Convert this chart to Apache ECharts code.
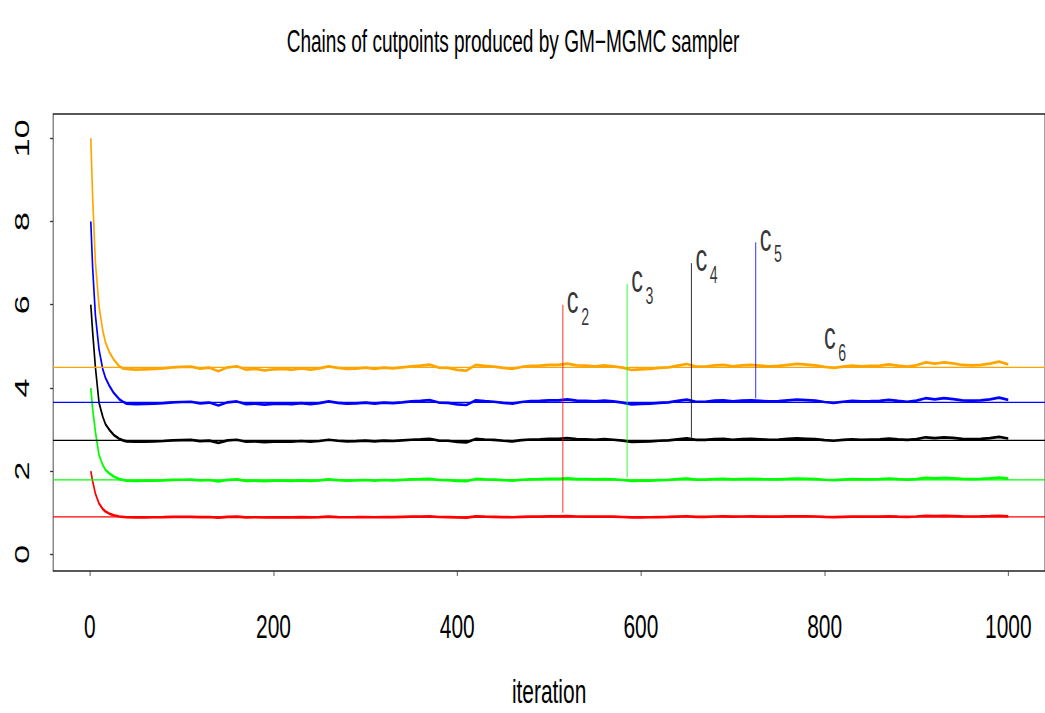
<!DOCTYPE html>
<html><head><meta charset="utf-8">
<script src="https://cdn.jsdelivr.net/npm/echarts@6/dist/echarts.min.js"></script>
<style>html,body{margin:0;padding:0;overflow:hidden;background:#fff;width:1045px;height:713px}</style>
</head><body>
<div id="c"></div>
<script>
// ---------- data ----------
const titleText = 'Chains of cutpoints produced by GM\u2212MGMC sampler';
const xName = 'iteration';
const xTicks = [0, 200, 400, 600, 800, 1000];
const yTicks = [0, 2, 4, 6, 8, 10];
const iterations = [1,3,6,10,14,17,21,26,32,36,
 40,50,60,70,80,90,100,110,120,130,
 140,150,160,170,180,190,200,210,220,230,
 240,250,260,270,280,290,300,310,320,330,
 340,350,360,370,380,390,400,410,420,430,
 440,450,460,470,480,490,500,510,520,530,
 540,550,560,570,580,590,600,610,620,630,
 640,650,660,670,680,690,700,710,720,730,
 740,750,760,770,780,790,800,810,820,830,
 840,850,860,870,880,890,900,910,920,930,
 940,950,960,970,980,990,1000];
const chainOrange = [10.0,8.6,7.02,5.96,5.38,5.09,4.87,4.68,4.52,4.47,
 4.456,4.440,4.448,4.456,4.472,4.496,4.504,4.512,4.464,4.488,
 4.400,4.496,4.520,4.440,4.456,4.424,4.448,4.456,4.440,4.472,
 4.440,4.472,4.520,4.480,4.456,4.464,4.488,4.456,4.488,4.472,
 4.496,4.520,4.536,4.560,4.488,4.480,4.432,4.416,4.552,4.528,
 4.512,4.480,4.456,4.504,4.528,4.536,4.552,4.552,4.584,4.544,
 4.536,4.520,4.544,4.520,4.488,4.432,4.448,4.456,4.480,4.496,
 4.536,4.576,4.512,4.512,4.544,4.552,4.520,4.544,4.552,4.536,
 4.520,4.528,4.552,4.576,4.560,4.544,4.504,4.480,4.512,4.536,
 4.520,4.528,4.536,4.568,4.536,4.512,4.544,4.616,4.584,4.616,
 4.592,4.552,4.544,4.552,4.584,4.632,4.568];
const chainBlue = [8.0,6.9,5.75,4.92,4.45,4.24,4.06,3.88,3.73,3.67,
 3.623,3.610,3.616,3.623,3.636,3.655,3.662,3.668,3.629,3.649,
 3.577,3.655,3.675,3.610,3.623,3.597,3.616,3.623,3.610,3.636,
 3.610,3.636,3.675,3.642,3.623,3.629,3.649,3.623,3.649,3.636,
 3.655,3.675,3.688,3.707,3.649,3.642,3.603,3.590,3.701,3.681,
 3.668,3.642,3.623,3.662,3.681,3.688,3.701,3.701,3.727,3.694,
 3.688,3.675,3.694,3.675,3.649,3.603,3.616,3.623,3.642,3.655,
 3.688,3.720,3.668,3.668,3.694,3.701,3.675,3.694,3.701,3.688,
 3.675,3.681,3.701,3.720,3.707,3.694,3.662,3.642,3.668,3.688,
 3.675,3.681,3.688,3.714,3.688,3.668,3.694,3.753,3.727,3.753,
 3.733,3.701,3.694,3.701,3.727,3.766,3.714];
const chainBlack = [6.0,5.35,4.5,3.64,3.31,3.13,3.0,2.87,2.78,2.74,
 2.716,2.706,2.711,2.716,2.725,2.740,2.745,2.750,2.720,2.735,
 2.681,2.740,2.755,2.706,2.716,2.696,2.711,2.716,2.706,2.725,
 2.706,2.725,2.755,2.730,2.716,2.720,2.735,2.716,2.735,2.725,
 2.740,2.755,2.765,2.779,2.735,2.730,2.701,2.691,2.774,2.760,
 2.750,2.730,2.716,2.745,2.760,2.765,2.774,2.774,2.794,2.769,
 2.765,2.755,2.769,2.755,2.735,2.701,2.711,2.716,2.730,2.740,
 2.765,2.789,2.750,2.750,2.769,2.774,2.755,2.769,2.774,2.765,
 2.755,2.760,2.774,2.789,2.779,2.769,2.745,2.730,2.750,2.765,
 2.755,2.760,2.765,2.784,2.765,2.750,2.769,2.814,2.794,2.814,
 2.799,2.774,2.769,2.774,2.794,2.823,2.784];
const chainGreen = [4.0,3.5,2.95,2.38,2.15,2.03,1.95,1.87,1.81,1.79,
 1.774,1.768,1.771,1.774,1.780,1.790,1.793,1.796,1.777,1.787,
 1.752,1.790,1.800,1.768,1.774,1.761,1.771,1.774,1.768,1.780,
 1.768,1.780,1.800,1.784,1.774,1.777,1.787,1.774,1.787,1.780,
 1.790,1.800,1.806,1.816,1.787,1.784,1.764,1.758,1.812,1.803,
 1.796,1.784,1.774,1.793,1.803,1.806,1.812,1.812,1.825,1.809,
 1.806,1.800,1.809,1.800,1.787,1.764,1.771,1.774,1.784,1.790,
 1.806,1.822,1.796,1.796,1.809,1.812,1.800,1.809,1.812,1.806,
 1.800,1.803,1.812,1.822,1.816,1.809,1.793,1.784,1.796,1.806,
 1.800,1.803,1.806,1.819,1.806,1.796,1.809,1.838,1.825,1.838,
 1.828,1.812,1.809,1.812,1.825,1.844,1.819];
const chainRed = [2.0,1.76,1.46,1.22,1.09,1.03,0.98,0.94,0.91,0.90,
 0.892,0.889,0.890,0.892,0.895,0.900,0.902,0.903,0.894,0.898,
 0.881,0.900,0.905,0.889,0.892,0.886,0.890,0.892,0.889,0.895,
 0.889,0.895,0.905,0.897,0.892,0.894,0.898,0.892,0.898,0.895,
 0.900,0.905,0.908,0.913,0.898,0.897,0.887,0.884,0.911,0.906,
 0.903,0.897,0.892,0.902,0.906,0.908,0.911,0.911,0.918,0.910,
 0.908,0.905,0.910,0.905,0.898,0.887,0.890,0.892,0.897,0.900,
 0.908,0.916,0.903,0.903,0.910,0.911,0.905,0.910,0.911,0.908,
 0.905,0.906,0.911,0.916,0.913,0.910,0.902,0.897,0.903,0.908,
 0.905,0.906,0.908,0.914,0.908,0.903,0.910,0.924,0.918,0.924,
 0.919,0.911,0.910,0.911,0.918,0.927,0.914];
// posterior mean levels (horizontal reference lines)
const levels = [0.90, 1.79, 2.74, 3.655, 4.496];
// vertical marker segments
const segX = [515, 585, 655, 725];
const segBottom = [1.0, 1.85, 2.8, 3.75];
const segTop = [6.0, 6.5, 7.0, 7.5];
// labels c_k
const labelX = [515, 585, 655, 725, 795];
const labelY = [6.0, 6.5, 7.0, 7.5, 5.13];
const labelSub = ['2', '3', '4', '5', '6'];

// ---------- styles ----------
const S = 0.615;               // horizontal squeeze of the original picture
const W = 1045 / S, H = 713;
const el = document.getElementById('c');
el.style.width = W + 'px'; el.style.height = H + 'px';
el.style.transform = 'scaleX(' + S + ')';
el.style.transformOrigin = '0 0';
const FONT = "'Liberation Sans', Arial, Helvetica, sans-serif";
const chainColors = ['#FFA500', '#0000FF', '#000000', '#00FF00', '#FF0000'];
const levelColors = ['#FF0000', '#00FF00', '#000000', '#0000FF', '#FFA500'];
const segColors = ['#FF0000', '#00FF00', '#000000', '#0000FF'];

const chart = echarts.init(el, null, {renderer: 'svg', width: W, height: H});
const series = [];
[chainOrange, chainBlue, chainBlack, chainGreen, chainRed].forEach((vals, k) => {
  series.push({type: 'line', showSymbol: false, silent: true, animation: false,
    data: iterations.map((it, i) => [it, vals[i]]),
    lineStyle: {color: chainColors[k], width: 2.7}, z: 3});
});
levels.forEach((v, k) => {
  series.push({type: 'line', showSymbol: false, silent: true, animation: false,
    data: [[-40, v], [1040, v]], lineStyle: {color: levelColors[k], width: 1.3}, z: 4});
});
segX.forEach((x, k) => {
  series.push({type: 'line', showSymbol: false, silent: true, animation: false,
    data: [[x, segBottom[k]], [x, segTop[k]]], lineStyle: {color: segColors[k], width: 1}, z: 4});
});
series.push({type: 'scatter', symbolSize: 0, silent: true, animation: false,
  data: labelX.map((x, i) => [x, labelY[i]]),
  label: {show: true, formatter: 'c', position: 'inside', align: 'left', verticalAlign: 'middle',
    offset: [6.5, -5], fontFamily: FONT, fontSize: 38, color: '#000'}, z: 5});
series.push({type: 'scatter', symbolSize: 0, silent: true, animation: false,
  data: labelX.map((x, i) => [x, labelY[i]]),
  label: {show: true, formatter: p => labelSub[p.dataIndex], position: 'inside', align: 'left', verticalAlign: 'middle',
    offset: [29.8, 12], fontFamily: FONT, fontSize: 23, color: '#000'}, z: 5});

const gridLeft = 53.14 / S, gridRight = W - 1048.4 / S;
chart.setOption({
  animation: false,
  backgroundColor: '#fff',
  graphic: [{type: 'text', x: 513 / S, y: 26,
    style: {text: titleText, font: '31px ' + FONT, fill: '#000', textAlign: 'center', textVerticalAlign: 'top'}}],
  grid: {left: gridLeft, right: gridRight, top: 114, bottom: 713 - 571.7, show: true,
    borderColor: '#222', borderWidth: 1.3, backgroundColor: 'transparent'},
  xAxis: {type: 'value', min: -40, max: 1040,
    name: xName, nameLocation: 'middle', nameGap: 103,
    nameTextStyle: {fontFamily: FONT, fontSize: 34, color: '#000'},
    axisLine: {show: false, onZero: false}, splitLine: {show: false},
    axisTick: {show: true, length: 5, lineStyle: {color: '#333', width: 1.3}, customValues: xTicks},
    axisLabel: {customValues: xTicks, formatter: v => String(v), margin: 38, fontFamily: FONT, fontSize: 34, color: '#000'}},
  yAxis: {type: 'value', min: -0.4, max: 10.584,
    axisLine: {show: false, onZero: false}, splitLine: {show: false},
    axisTick: {show: true, length: 5, lineStyle: {color: '#333', width: 1.3}, customValues: yTicks},
    axisLabel: {customValues: yTicks, formatter: v => String(v), rotate: 90, margin: 34, fontFamily: FONT, fontSize: 34, color: '#000'}},
  series: series
});
</script>
</body></html>
